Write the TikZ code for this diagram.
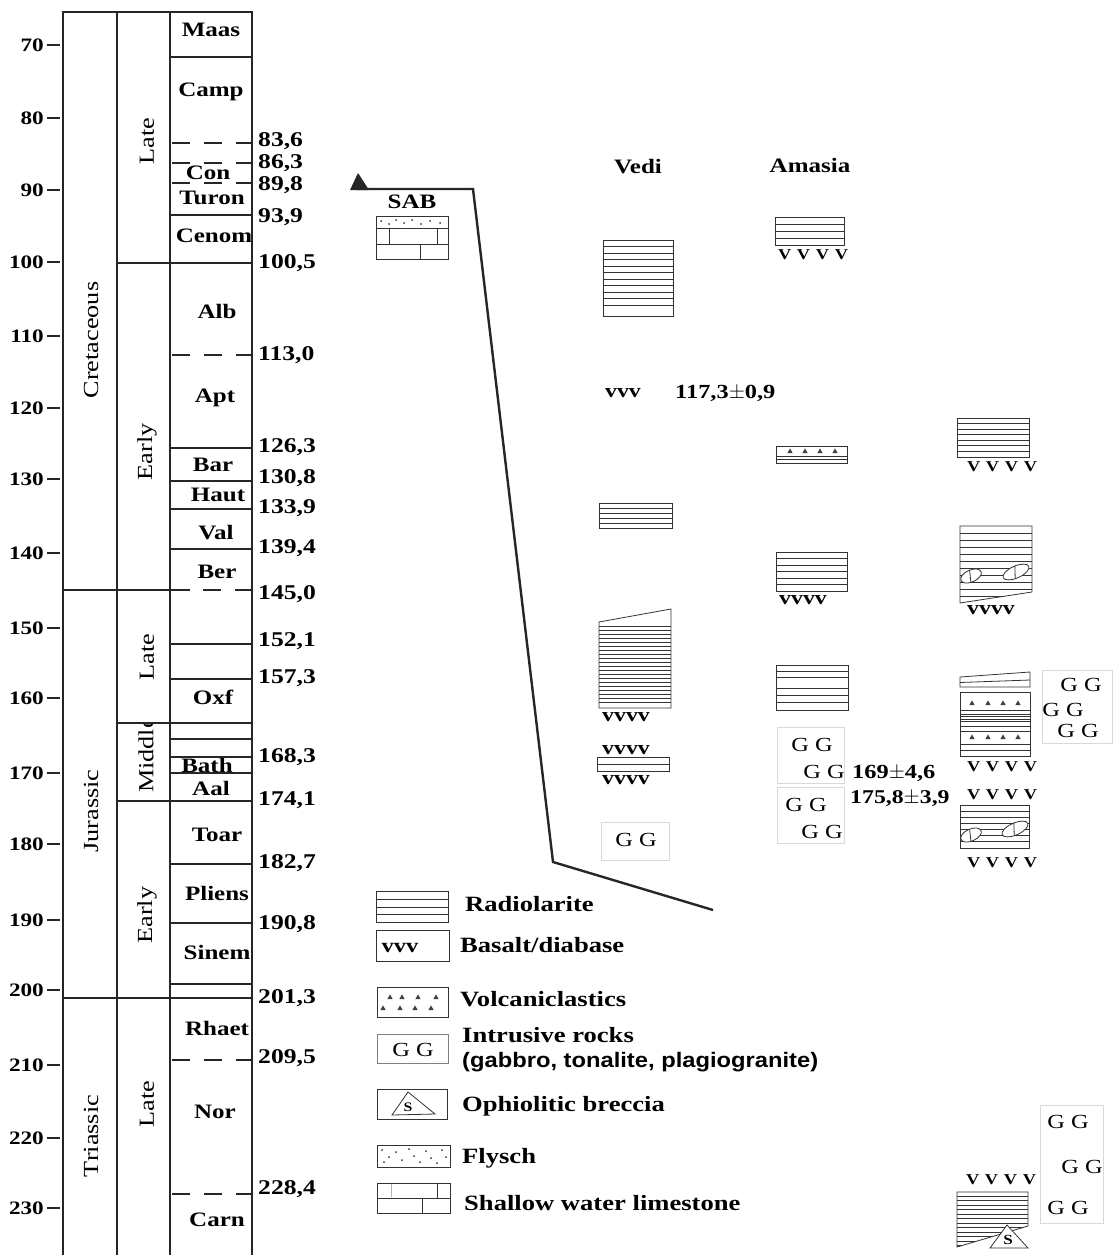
\documentclass[tikz,border=0pt]{standalone}
\usepackage{fontspec}
\setmainfont[FakeStretch=1.22]{Liberation Serif}
\newfontfamily\gabsans[FakeStretch=1.13]{Liberation Sans}
\usetikzlibrary{arrows.meta, calc}

\newcommand{\fs}[1]{\fontsize{#1}{#1}\selectfont}
% small volcanic clast
\newcommand{\volc}[2]{\fill[black!75] (#1-2.6,#2+2) -- (#1,#2-2.6) -- (#1+2.6,#2+2) -- cycle;}
% pebble of the conglomerate layers
\newcommand{\pebble}[3]{%
  \draw[hatch, fill=white, rotate around={24:(#1,#2)}] (#1,#2) ellipse [x radius=#3, y radius=6];
  \draw[hatch, rotate around={24:(#1,#2)}] ($(#1,#2)+(-#3*0.25,6)$) -- ($(#1,#2)+(#3*0.1,-6)$);}
\newcommand{\vsp}{V\hspace{.38em}V\hspace{.38em}V\hspace{.38em}V}

\begin{document}
\begin{tikzpicture}[x=1pt, y=-1pt,
  every node/.style={inner sep=0pt, font=\fs{20.5}\bfseries},
  colline/.style={line width=2.8pt, draw=black!85},
  stageline/.style={line width=2.2pt, draw=black!85},
  stagedash/.style={stageline, dash pattern=on 18pt off 14pt},
  agetick/.style={line width=2.4pt, draw=black!85},
  hatch/.style={line width=0.8pt, draw=black!80},
  faintbox/.style={line width=0.8pt, draw=black!15},
  thrust/.style={line width=2.4pt, draw=black!85, line join=miter},
  agelbl/.style={anchor=west, font=\fs{21}\bfseries},
  axislbl/.style={anchor=east, font=\fs{19}\bfseries},
  unitlbl/.style={rotate=90, font=\fs{21.5}},
  coltitle/.style={font=\fs{20.5}\bfseries},
  keytext/.style={anchor=west, font=\fs{21.8}\bfseries},
  gg/.style={font=\fs{20}},
  vrow/.style={font=\fs{15}\bfseries},
  vlow/.style={font=\fs{19.5}\bfseries}]

  \fill[white] (0,0) rectangle (1112,1255);
  \useasboundingbox (0,0) rectangle (1112,1255);

  % time scale
  \foreach \tk/\ty in {70/45, 80/118, 90/190, 100/262, 110/336, 120/408, 130/479, 140/553,
      150/628, 160/698, 170/773, 180/844, 190/920, 200/990, 210/1065, 220/1138, 230/1208} {
    \draw[agetick] (47,\ty) -- (60,\ty);
    \node[axislbl] (ax-\tk) at (44,\ty) {\tk};
  }

  \node[unitlbl] (cret) at (91,340) {Cretaceous};
  \node[unitlbl] (jur) at (91,811) {Jurassic};
  \node[unitlbl] (tri) at (91,1136) {Triassic};
  \node[unitlbl] (k2) at (147,141) {Late};
  \node[unitlbl] (k1) at (147,452) {Early};
  \node[unitlbl] (j3) at (147,657) {Late};
  \begin{scope}
    \clip (117,723) rectangle (170,801);
    \node[unitlbl] (j2) at (146,755) {Middle};
  \end{scope}
  \node[unitlbl] (j1) at (147,915) {Early};
  \node[unitlbl] (t3) at (147,1104) {Late};

  \foreach \nm/\sx/\sy in {Maas/211/30, Camp/211/92, Con/208/173, Turon/212/198, Cenom/214/236,
      Alb/217/311, Apt/215/398, Bar/213/465, Haut/218/495, Val/216/533, Ber/217/572, Oxf/213/697,
      Bath/207/765, Aal/211/788, Toar/217/835, Pliens/217/893, Sinem/217/952, Rhaet/217/1028,
      Nor/215/1112, Carn/217/1220}
    \node (st-\nm) at (\sx,\sy) {\nm};

  \draw[colline] (63,1260) -- (63,12) -- (252,12) -- (252,1260);
  \draw[colline] (117,12) -- (117,1260);
  \draw[colline] (170,12) -- (170,1260);
  \foreach \by in {57,215,448,481,509,549,644,679,739,757,773,864,923,984}
    \draw[stageline] (170,\by) -- (252,\by);
  \foreach \by in {143,163,183,355,1060,1194}
    \draw[stagedash] (172,\by) -- (252,\by);
  \draw[stageline] (117,263) -- (252,263);
  \draw[stageline] (117,723) -- (252,723);
  \draw[stageline] (117,801) -- (252,801);
  \draw[stageline] (63,998) -- (252,998);
  \draw[stageline] (63,590) -- (190,590);
  \draw[stagedash] (203,590) -- (252,590);

  \foreach \ai/\af/\ay in {83/6/141, 86/3/163, 89/8/185, 93/9/217, 100/5/263, 113/0/355,
      126/3/447, 130/8/478, 133/9/508, 139/4/548, 145/0/594, 152/1/641, 157/3/678, 168/3/757,
      174/1/800, 182/7/863, 190/8/924, 201/3/998, 209/5/1058, 228/4/1189}
    \node[agelbl] (age-\ai) at (258,\ay) {\ai,\af};

  % thrust line
  \coordinate (th0) at (356,189);
  \coordinate (th1) at (473,189);
  \coordinate (th2) at (553,862);
  \coordinate (th3) at (713,910);
  \fill[black!85] (350,190) -- (358,173) -- (369,190) -- cycle;
  \draw[thrust] (th0) -- (th1) -- (th2) -- (th3);

  % SAB
  \node (sab) at (412,202) {SAB};
  \draw[hatch] (376,216) rectangle (448,259);
  \draw[hatch] (376,228) -- (448,228);
  \draw[hatch] (376,244) -- (448,244);
  \draw[hatch] (389,228) -- (389,244);
  \draw[hatch] (437,228) -- (437,244);
  \draw[hatch] (420,244) -- (420,259);
  \foreach \dx/\dy in {381/221, 389/224, 396/220, 404/223, 412/220, 421/224, 430/221, 440/223}
    \fill[black!80] (\dx,\dy) circle (1);

  % Vedi
  \node[coltitle] (vedi) at (638,167) {Vedi};
  \draw[hatch] (603,240) rectangle (673,316);
  \foreach \hy in {246.5,253,...,310} \draw[hatch] (603,\hy) -- (673,\hy);
  \node[vlow] (vedi-v1) at (623,393) {vvv};
  \node[anchor=west, font=\fs{20}\bfseries] (vedi-age) at (675,393) {117,3$\pm$0,9};
  \draw[hatch] (599,503) rectangle (672,528);
  \foreach \hy in {508,513,518,523} \draw[hatch] (599,\hy) -- (672,\hy);
  \draw[hatch] (599,622) -- (671,609) -- (671,708) -- (599,708) -- cycle;
  \foreach \hy in {626,630,...,704} \draw[hatch] (599,\hy) -- (671,\hy);
  \node[vlow] (vedi-v2) at (626,717) {vvvv};
  \node[vlow] (vedi-v3) at (626,750) {vvvv};
  \draw[hatch] (597,757) rectangle (669,771);
  \draw[hatch] (597,764) -- (669,764);
  \node[vlow] (vedi-v4) at (626,780) {vvvv};
  \draw[faintbox] (601,822) rectangle (669,860);
  \node[gg] (vedi-g) at (636,840) {G G};

  % Amasia
  \node[coltitle] (amasia) at (810,165) {Amasia};
  \draw[hatch] (775,217) rectangle (844,245);
  \foreach \hy in {224,231,238} \draw[hatch] (775,\hy) -- (844,\hy);
  \node[vrow] (am-v1) at (813,255) {\vsp};
  \draw[hatch] (776,446) rectangle (847,463);
  \foreach \hy in {456,459.5} \draw[hatch] (776,\hy) -- (847,\hy);
  \foreach \vx in {790,805,820,835} {\volc{\vx}{451}}
  \draw[hatch] (776,552) rectangle (847,591);
  \foreach \hy in {558.5,565,571.5,578,584.5} \draw[hatch] (776,\hy) -- (847,\hy);
  \node[vlow] (am-v2) at (803,600) {vvvv};
  \draw[hatch] (776,665) rectangle (848,710);
  \foreach \hy in {671,677,688,695,702} \draw[hatch] (776,\hy) -- (848,\hy);
  \draw[faintbox] (777,727) rectangle (844,783);
  \draw[faintbox] (777,787) rectangle (844,843);
  \node[gg] (am-g1) at (812,745) {G G};
  \node[gg] (am-g2) at (824,772) {G G};
  \node[gg] (am-g3) at (806,805) {G G};
  \node[gg] (am-g4) at (822,832) {G G};
  \node[anchor=west, font=\fs{20}\bfseries] (am-age1) at (852,773) {169$\pm$4,6};
  \node[anchor=west, font=\fs{19.5}\bfseries] (am-age2) at (850,799) {175,8$\pm$3,9};

  % third section
  \draw[hatch] (957,418) rectangle (1029,457);
  \foreach \hy in {423.5,429,434.5,440,445.5,451} \draw[hatch] (957,\hy) -- (1029,\hy);
  \node[vrow] (s3-v1) at (1002,467) {\vsp};
  \begin{scope}
    \clip (960,526) -- (1032,526) -- (1032,592) -- (960,603) -- cycle;
    \foreach \hy in {533,540,...,603} \draw[hatch] (960,\hy) -- (1032,\hy);
  \end{scope}
  \draw[hatch] (960,526) -- (1032,526) -- (1032,592) -- (960,603) -- cycle;
  \pebble{971}{576}{11}
  \pebble{1016}{572}{14}
  \node[vlow] (s3-v2) at (991,610) {vvvv};
  \draw[hatch] (960,677) -- (1030,672) -- (1030,687) -- (960,687) -- cycle;
  \draw[hatch] (960,682.5) -- (1030,680);
  \draw[hatch] (960,692) rectangle (1030,756);
  \foreach \hy in {710,714,716.5,719,721.5,726,731,744,750} \draw[hatch] (960,\hy) -- (1030,\hy);
  \foreach \vx in {972,988,1003,1018} {\volc{\vx}{703} \volc{\vx}{737}}
  \node[vrow] (s3-v3) at (1002,767) {\vsp};
  \node[vrow] (s3-v4) at (1002,795) {\vsp};
  \draw[hatch] (960,805) rectangle (1029,848);
  \foreach \hy in {811,817,823,829,835,841} \draw[hatch] (960,\hy) -- (1029,\hy);
  \pebble{971}{835}{11}
  \pebble{1015}{829}{14}
  \node[vrow] (s3-v5) at (1002,863) {\vsp};
  \draw[faintbox] (1042,670) rectangle (1112,743);
  \node[gg] (s3-g1) at (1081,685) {G G};
  \node[gg] (s3-g2) at (1063,710) {G G};
  \node[gg] (s3-g3) at (1078,731) {G G};

  % bottom right section
  \draw[faintbox] (1040,1105) rectangle (1103,1223);
  \node[gg] (s4-g1) at (1068,1122) {G G};
  \node[gg] (s4-g2) at (1082,1167) {G G};
  \node[gg] (s4-g3) at (1068,1208) {G G};
  \node[vrow] (s4-v1) at (1001,1180) {\vsp};
  \begin{scope}
    \clip (957,1192) -- (1028,1192) -- (1028,1226) -- (957,1247) -- cycle;
    \foreach \hy in {1196,1200.5,...,1246} \draw[hatch] (957,\hy) -- (1028,\hy);
  \end{scope}
  \draw[hatch] (1028,1226) -- (1028,1192) -- (957,1192) -- (957,1247) -- cycle;
  \draw[hatch, fill=white] (990,1248) -- (1007,1225) -- (1028,1248) -- cycle;
  \node[font=\fs{14}\bfseries] (s4-s) at (1008,1240) {S};

  % legend
  \draw[hatch] (376,891) rectangle (448,922);
  \foreach \hy in {899,907,914} \draw[hatch] (376,\hy) -- (448,\hy);
  \node[keytext] (k-rad) at (465,904) {Radiolarite};
  \draw[hatch] (376,930) rectangle (449,961);
  \node[font=\fs{20}\bfseries] (k-vvv) at (400,948) {vvv};
  \node[keytext] (k-bas) at (460,945) {Basalt/diabase};
  \draw[hatch] (377,987) rectangle (448,1017);
  \foreach \vx in {390,402,418,436} {\volc{\vx}{997}}
  \foreach \vx in {383,400,415,431} {\volc{\vx}{1008}}
  \node[keytext] (k-vol) at (460,999) {Volcaniclastics};
  \draw[line width=0.8pt, draw=black!50] (377,1034) rectangle (448,1063);
  \node[gg] (k-gg) at (413,1050) {G G};
  \node[keytext] (k-int) at (462,1035) {Intrusive rocks};
  \node[anchor=west, font=\gabsans\fs{21}\bfseries] (k-gab) at (462,1062) {(gabbro, tonalite, plagiogranite)};
  \draw[hatch] (377,1089) rectangle (447,1119);
  \draw[hatch] (392,1115) -- (408,1092) -- (435,1114) -- cycle;
  \node[font=\fs{13}\bfseries] (k-s) at (408,1107) {S};
  \node[keytext] (k-oph) at (462,1106) {Ophiolitic breccia};
  \draw[hatch] (377,1145) rectangle (450,1167);
  \foreach \dx/\dy in {382/1150, 389/1157, 384/1162, 396/1152, 402/1160, 409/1149, 414/1156,
      420/1162, 426/1151, 431/1158, 437/1163, 442/1150, 446/1157}
    \fill[black!80] (\dx,\dy) circle (1);
  \node[keytext] (k-fly) at (462,1158) {Flysch};
  \draw[hatch] (377,1183) rectangle (450,1213);
  \draw[hatch] (377,1198) -- (450,1198);
  \draw[hatch] (437,1183) -- (437,1198);
  \draw[line width=0.8pt, draw=black!30] (391,1184) -- (391,1197);
  \draw[hatch] (422,1198) -- (422,1213);
  \node[keytext] (k-lim) at (464,1203) {Shallow water limestone};
\end{tikzpicture}
\end{document}
